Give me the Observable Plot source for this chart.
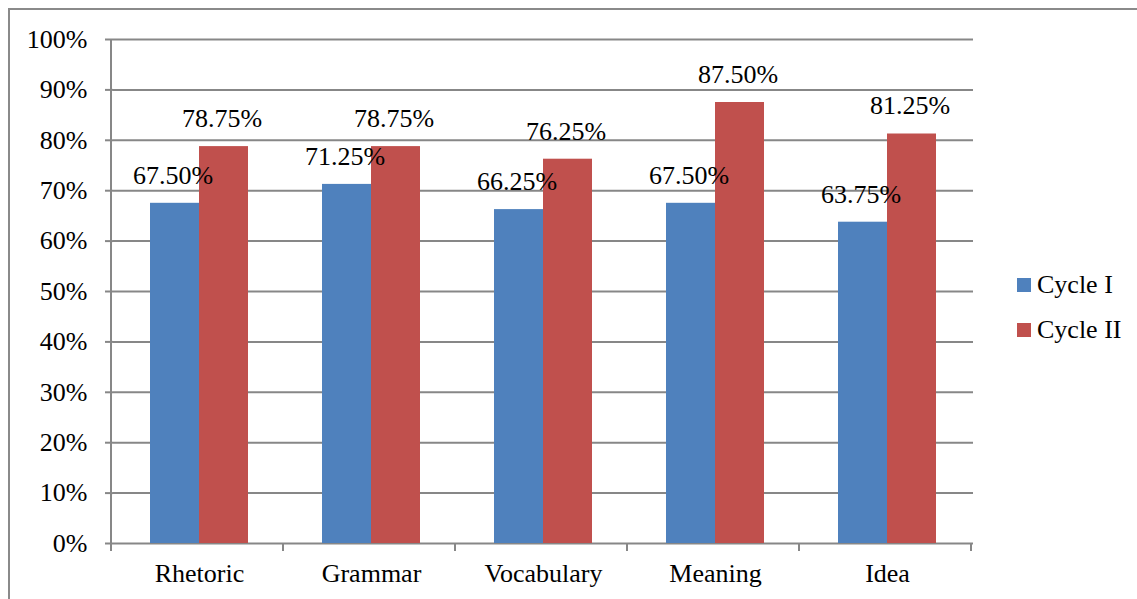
<!DOCTYPE html>
<html><head><meta charset="utf-8">
<script src="https://cdn.jsdelivr.net/npm/d3@7"></script>
<script src="https://cdn.jsdelivr.net/npm/@observablehq/plot@0.6"></script>
<style>
html,body{margin:0;padding:0;background:#fff;}
body{width:1137px;height:599px;overflow:hidden;position:relative;font-family:"Liberation Serif","Times New Roman",serif;}
#frame{position:absolute;left:8px;top:8px;width:1160px;height:620px;border-left:2px solid #8a8a8a;border-top:2px solid #8a8a8a;box-sizing:border-box;}
#chart{position:absolute;left:0;top:0;}
#legend{position:absolute;left:1017px;top:262px;font-size:26px;color:#000;}
#legend .item{display:flex;align-items:center;height:45px;}
#legend .sw{width:14px;height:14px;margin-right:6px;}
</style>
</head><body>
<div id="frame"></div>
<div id="chart"></div>
<div id="legend"></div>
<script>
const categories = ["Rhetoric", "Grammar", "Vocabulary", "Meaning", "Idea"];
const series = ["Cycle I", "Cycle II"];
const cycle1 = [67.50, 71.25, 66.25, 67.50, 63.75];
const cycle2 = [78.75, 78.75, 76.25, 87.50, 81.25];
const yTicks = [0, 10, 20, 30, 40, 50, 60, 70, 80, 90, 100];
const colors = ["#4F81BD", "#C0504D"];

const rows = [];
categories.forEach((c, i) => {
  rows.push({category: c, series: series[0], value: cycle1[i]});
  rows.push({category: c, series: series[1], value: cycle2[i]});
});

const serif = "'Liberation Serif','Times New Roman',serif";
const gray = "#878787";
const chart = Plot.plot({
  width: 1137,
  height: 599,
  marginLeft: 111,
  marginRight: 162,
  marginTop: 39,
  marginBottom: 56,
  style: {fontFamily: serif, fontSize: "26px", color: "#000", background: "transparent"},
  fx: {domain: categories, padding: 0, label: null},
  x: {domain: series, paddingInner: 0, paddingOuter: 0.75, axis: null},
  y: {domain: [0, 100], label: null},
  color: {domain: series, range: colors},
  marks: [
    Plot.gridY(yTicks, {stroke: gray, strokeOpacity: 1, strokeWidth: 2}),
    Plot.axisY(yTicks, {tickSize: 8, tickPadding: 18, tickFormat: d => d + "%", stroke: gray, strokeWidth: 2, strokeOpacity: 1, fill: "#000", fontSize: 26, fontFamily: serif, fontVariant: "normal"}),
    Plot.barY(rows, {fx: "category", x: "series", y: "value", fill: "series"}),
    Plot.text(rows, {fx: "category", x: "series", y: "value", text: d => d.value.toFixed(2) + "%", lineAnchor: "middle", dy: -28, dx: -2, fontSize: 26, fontFamily: serif, fontVariant: "normal", fill: "#000"}),
    Plot.axisFx({anchor: "bottom", tickSize: 0, tickPadding: 20, fontSize: 26, fontFamily: serif, fill: "#000", label: null})
  ]
});
document.getElementById("chart").appendChild(chart);

// axis lines and category boundary ticks from Plot's own scales
const fx = chart.scale("fx");
const y = chart.scale("y");
const svg = d3.select(chart);
const x0 = fx.range[0];
const step = fx.step;
const yTop = y.apply(100), yBot = y.apply(0);
const g = svg.append("g").attr("stroke", gray).attr("stroke-width", 2);
g.append("line").attr("x1", x0).attr("x2", x0).attr("y1", yTop).attr("y2", yBot + 8);
for (let i = 0; i <= categories.length; i++) {
  const xx = x0 + i * step;
  g.append("line").attr("x1", xx).attr("x2", xx).attr("y1", yBot).attr("y2", yBot + 8);
}

const legend = document.getElementById("legend");
series.forEach((s, i) => {
  const item = document.createElement("div");
  item.className = "item";
  const sw = document.createElement("div");
  sw.className = "sw";
  sw.style.background = colors[i];
  const t = document.createElement("span");
  t.textContent = s;
  item.appendChild(sw);
  item.appendChild(t);
  legend.appendChild(item);
});
</script>
</body></html>
